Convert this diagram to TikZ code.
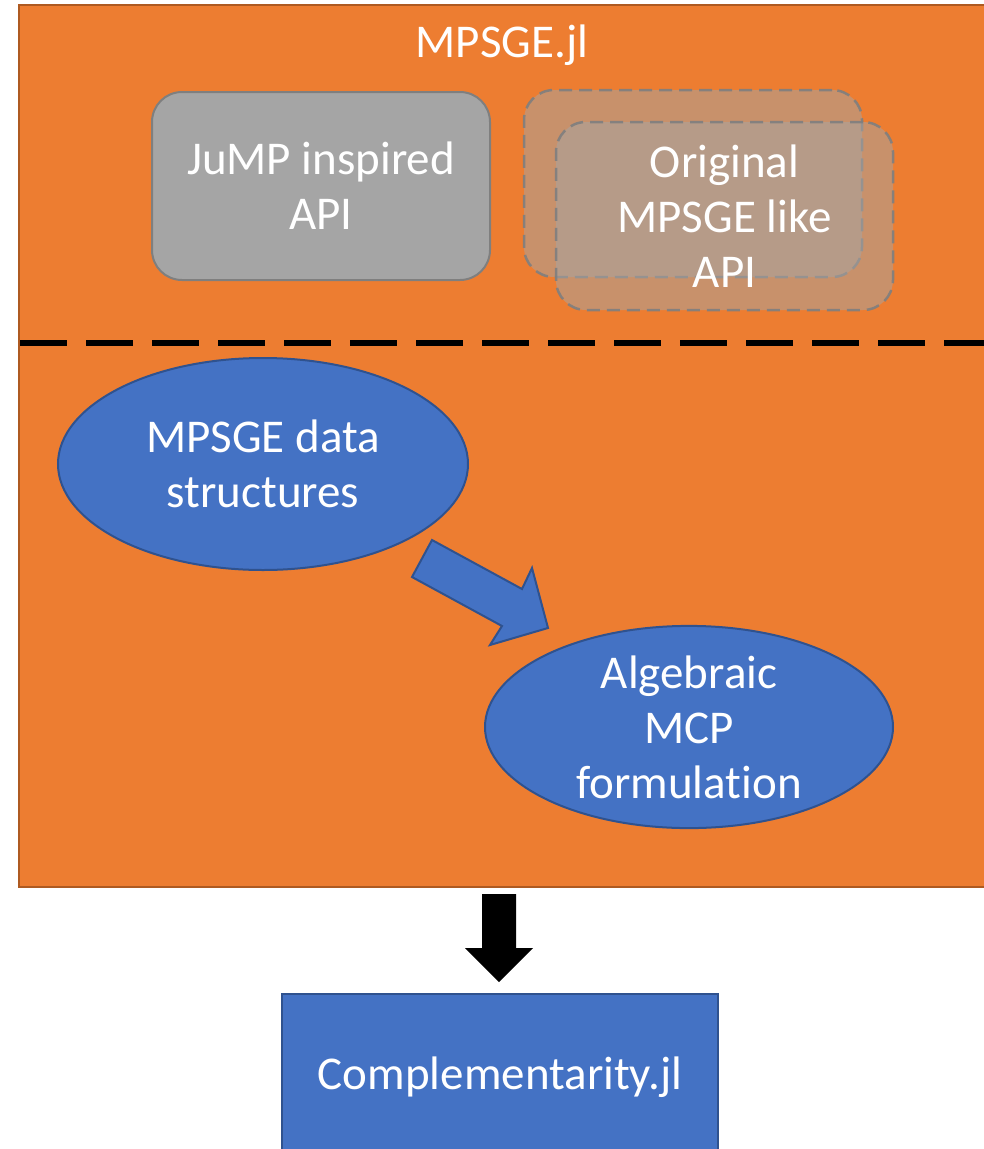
\documentclass[tikz,border=0pt]{standalone}
\usepackage{fontspec}
\setmainfont{Carlito}[RawFeature={-liga;-clig;-dlig;-calt}]
\usetikzlibrary{shapes.geometric}
\definecolor{orfill}{HTML}{ED7D31}
\definecolor{ordraw}{HTML}{AE5A21}
\definecolor{blfill}{HTML}{4472C4}
\definecolor{bldraw}{HTML}{2F528F}
\definecolor{gyfill}{HTML}{A5A5A5}
\definecolor{gydraw}{HTML}{7F7F7F}
\tikzset{
  txt/.style={text=white, font=\fontsize{47}{55}\selectfont, align=center},
  panel/.style={fill=orfill, draw=ordraw, line width=2pt},
  apibox/.style={txt, rectangle, rounded corners=30pt, inner sep=0pt},
  solidapi/.style={apibox, fill=gyfill, draw=gydraw, line width=2pt},
  ghostapi/.style={apibox, fill=gyfill, fill opacity=0.5, text opacity=1, draw=gydraw, draw opacity=0.9, line width=2.5pt, dash pattern=on 13pt off 7pt},
  blob/.style={txt, ellipse, fill=blfill, draw=bldraw, line width=2pt, inner sep=0pt},
  blockarrow/.style={fill=blfill, draw=bldraw, line width=2pt, line join=miter},
}
\begin{document}
\begin{tikzpicture}[x=1pt,y=-1pt]
\useasboundingbox (0,0) rectangle (984,1149);
\begin{scope}
\clip (0,0) rectangle (984,1149);
% main panel
\node[panel, rectangle, minimum width=982pt, minimum height=882pt, anchor=north west, inner sep=0pt] (panel) at (18,4) {};
\node[txt] (title) at (502,45) {MPSGE.jl};
% separator
\coordinate (sepL) at (20,343);
\coordinate (sepR) at (1000,343);
\draw[black, line width=5.5pt, dash pattern=on 47pt off 19pt] (sepL) -- (sepR);
% API boxes
\node[solidapi, minimum width=338pt, minimum height=188pt] (jump) at (321,186) {JuMP inspired\\API};
\node[ghostapi, minimum width=338pt, minimum height=187pt] (orig1) at (693,183.5) {};
\node[ghostapi, minimum width=337pt, minimum height=188pt] (orig2) at (724.5,216) {Original\\MPSGE like\\API};
% ellipses
\node[blob, minimum width=410pt, minimum height=212pt] (data) at (263,464) {MPSGE data\\structures};
\node[blob, minimum width=408pt, minimum height=168pt] (mcp) at (689,727) {Algebraic\\MCP\\formulation};
% block arrow from data to mcp
\draw[blockarrow] (432,540) -- (522,589) -- (532,568) -- (548,628) -- (490,645) -- (502,626) -- (412,577) -- cycle;
% bottom box
\node[txt, rectangle, fill=blfill, draw=bldraw, line width=1.5pt, minimum width=436pt, minimum height=166pt, inner sep=0pt] (compl) at (500,1077) {Complementarity.jl};
% black arrow from panel to compl
\fill[black] (482,894) -- (516,894) -- (516,948) -- (533,948) -- (499,982) -- (465,948) -- (482,948) -- cycle;
\end{scope}
\end{tikzpicture}
\end{document}
